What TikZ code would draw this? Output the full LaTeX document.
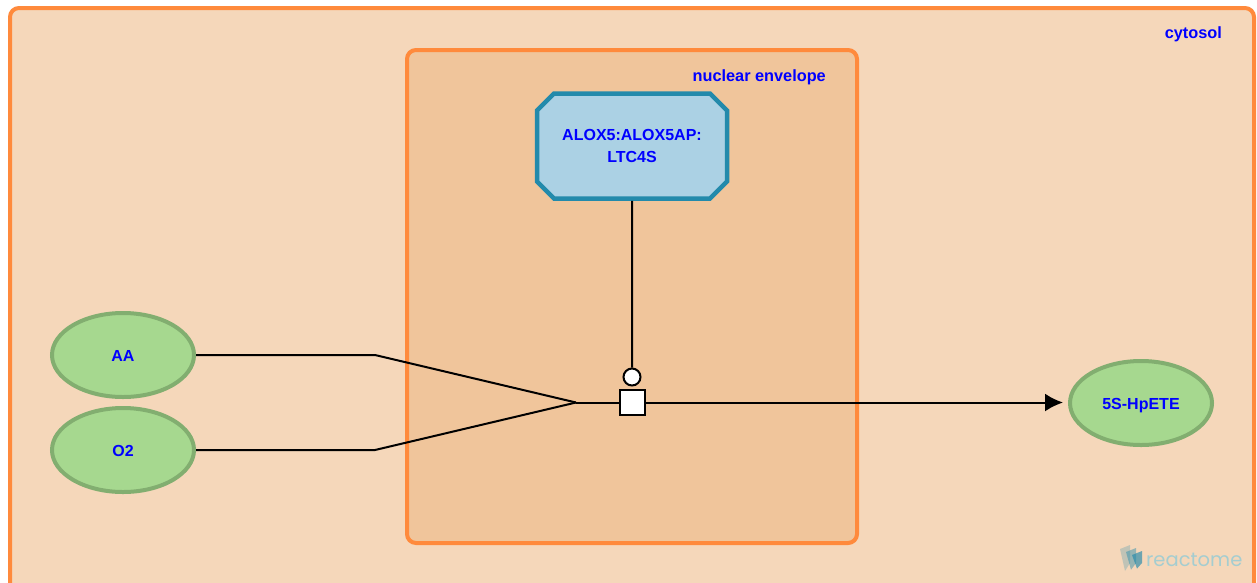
\documentclass[tikz,border=0pt]{standalone}
\usepackage{fontspec}
\setmainfont{Liberation Sans}
\newfontfamily\logofont{Poppins}
\usetikzlibrary{shapes.geometric, shapes.misc, arrows.meta}

\definecolor{cytosolFill}{HTML}{F5D7BA}
\definecolor{nuclearFill}{HTML}{F0C59B}
\definecolor{compBorder}{HTML}{FF8A3C}
\definecolor{complexFill}{HTML}{ABD1E4}
\definecolor{complexBorder}{HTML}{238AAB}
\definecolor{entityFill}{HTML}{A6D88F}
\definecolor{entityBorder}{HTML}{82AE70}
\definecolor{labelBlue}{HTML}{0000FF}
\definecolor{logoText}{HTML}{A5CDD0}

\tikzset{
    compartment/.style = {draw=compBorder, line width=4pt, rounded corners=9pt},
    compLabel/.style = {text=labelBlue, font=\fontsize{16.3}{19}\selectfont\bfseries, inner sep=0pt},
    entity/.style = {ellipse, draw=entityBorder, fill=entityFill, line width=4pt,
        minimum width=142pt, minimum height=84pt, inner sep=0pt, text height=13pt, text depth=0pt,
        text=labelBlue, font=\fontsize{16}{19}\selectfont\bfseries},
    complex/.style = {chamfered rectangle, chamfered rectangle xsep=8.5pt, chamfered rectangle ysep=8.5pt,
        draw=complexBorder, fill=complexFill, line width=4.5pt,
        minimum width=190pt, minimum height=105pt, inner sep=0pt, align=center,
        text=labelBlue, font=\fontsize{16}{22}\selectfont\bfseries},
    reaction/.style = {draw=black, fill=white, line width=2pt, minimum size=25pt, inner sep=0pt},
    catalyst/.style = {circle, draw=black, fill=white, line width=2pt, minimum size=17pt, inner sep=0pt},
    edge/.style = {line width=2pt, black}
}

\begin{document}
\begin{tikzpicture}[x=1pt, y=-1pt]

    % Determines the boundries
    \path [use as bounding box] (0,0) rectangle (1257,582);
    \clip (0,0) rectangle (1257,582);

    % Compartments
    \fill[white] (0,0) rectangle (1257,582);
    \draw[compartment, fill=cytosolFill] (10,8) rectangle (1254,600);
    \draw[compartment, fill=nuclearFill] (407,50) rectangle (857,543);
    \node (cytosol) [compLabel, anchor=east] at (1222,34) {cytosol};
    \node (nuclear) [compLabel, anchor=east] at (826,77.5) {nuclear envelope};

    % Entities
    \node (AA) [entity] at (123,355) {AA};
    \node (O2) [entity] at (123,450) {O2};
    \node (HpETE) [entity] at (1141,403) {5S-HpETE};
    \node (enzyme) [complex] at (632,146) {ALOX5:ALOX5AP:\\LTC4S};

    % Reaction
    \node (rxn) [reaction] at (632,402.5) {};
    \node (cat) [catalyst] at (632,377) {};
    \coordinate (merge) at (576,402.5);
    \coordinate (bendA) at (375,355);
    \coordinate (bendO) at (375,450);
    \coordinate (tip) at (1063,402.5);

    \draw[edge] (AA) -- (bendA) -- (merge);
    \draw[edge] (O2) -- (bendO) -- (merge);
    \draw[edge] (merge) -- (rxn);
    \draw[edge] (enzyme) -- (cat);
    \draw[edge, -{Latex[length=18pt, width=18pt, sharp]}] (rxn) -- (tip);

    % Logo
    \foreach \dx/\o in {0/0.25, 6/0.45, 12/0.65}{
        \fill[complexBorder, opacity=\o] (1120+\dx,549+0.5*\dx) -- (1130+\dx,545+0.5*\dx)
            -- (1130+\dx,563) -- (1125+\dx,571-0.2*\dx) -- cycle;
    }
    \node (logo) [anchor=west, inner sep=0pt, text=logoText, font=\fontsize{19.5}{22}\logofont\selectfont] at (1146,560) {reactome};

\end{tikzpicture}
\end{document}
